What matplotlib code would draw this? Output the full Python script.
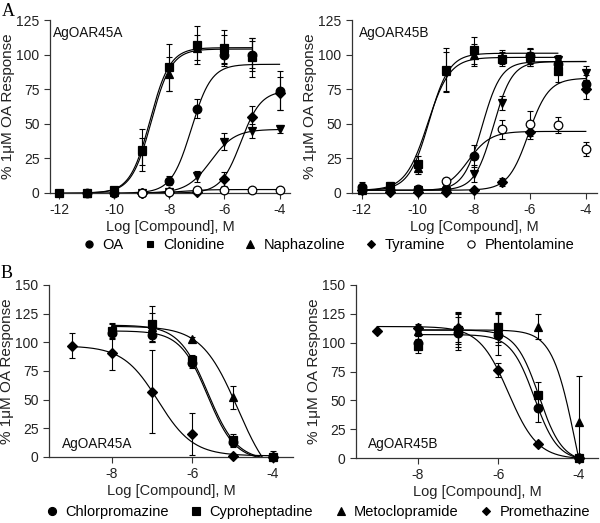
import numpy as np
import matplotlib
matplotlib.use("Agg")
import matplotlib.pyplot as plt
from matplotlib.lines import Line2D

nan = np.nan
plt.rcParams.update({"font.family": ["Liberation Sans", "DejaVu Sans"], "font.size": 10,
                     "axes.spines.top": False, "axes.spines.right": False})

# ---- panel A: agonists, dose in log M ----
dose_top = [-12, -11, -10, -9, -8, -7, -6, -5, -4]

# AgOAR45A (mean, sem) and fit (bottom, top, logEC50, hill)
a_oa = [nan, 0, 0, 0, 9, 61, 100, 100, 74]
a_oa_sem = [nan, 0, 0, 0, 3, 7, 7, 10, 14]
a_oa_fit = [0, 93, -7.2, 1.2]
a_clon = [0, 0, 2, 31, 91, 107, 105, 98, nan]
a_clon_sem = [0, 0, 1, 15, 17, 14, 13, 14, nan]
a_clon_fit = [0, 105, -8.7, 1.2]
a_naph = [nan, 0, 1, 30, 86, 105, 104, 100, nan]
a_naph_sem = [nan, 0, 1, 10, 12, 9, 10, 12, nan]
a_naph_fit = [0, 104, -8.65, 1.2]
a_tyr = [nan, nan, nan, 0, 1, 1, 10, 55, 72]
a_tyr_sem = [nan, nan, nan, 0, 0, 1, 5, 8, 12]
a_tyr_fit = [0, 74, -5.4, 1.2]
a_phen = [nan, nan, nan, 0, 1, 2, 2, 2, 2]
a_phen_sem = [nan, nan, nan, 0, 0, 0, 0, 0, 0]
a_phen_fit = [0, 2.5, -7.5, 1.0]
a_inv = [nan, nan, nan, 0, 1, 12, 37, 45, 46]
a_inv_sem = [nan, nan, nan, 0, 1, 4, 6, 5, 3]
a_inv_fit = [0, 46, -6.5, 1.0]

# AgOAR45B
b_oa = [4, 2, 3, 3, 27, nan, 99, 93, 79]
b_oa_sem = [4, 1, 1, 1, 8, nan, 6, 5, 6]
b_oa_fit = [2, 95, -7.7, 1.3]
b_clon = [3, 5, 21, 89, 103, 97, 98, 88, nan]
b_clon_sem = [3, 3, 6, 16, 10, 5, 6, 8, nan]
b_clon_fit = [2, 101, -9.6, 1.2]
b_naph = [2, 4, 18, 88, 100, 98, 99, 93, nan]
b_naph_sem = [2, 2, 4, 14, 8, 5, 5, 5, nan]
b_naph_fit = [2, 98, -9.65, 1.1]
b_tyr = [2, 1, 1, 1, 2, 8, 44, nan, 75]
b_tyr_sem = [1, 1, 1, 1, 1, 3, 5, nan, 7]
b_tyr_fit = [2, 83, -6.05, 1.2]
b_phen = [nan, nan, nan, 9, nan, 46, 50, 49, 32]
b_phen_sem = [nan, nan, nan, 2, nan, 7, 9, 6, 5]
b_phen_fit = [2, 44.5, -8.2, 1.1]
b_inv = [nan, nan, 2, 5, 14, 65, 97, 96, 87]
b_inv_sem = [nan, nan, 1, 2, 6, 5, 5, 4, 5]
b_inv_fit = [2, 95, -7.3, 1.3]

# ---- panel B: antagonists ----
dose_bot = [-9, -8, -7, -6, -5, -4]

c_chlor = [nan, 108, 106, 82, 13, 0]
c_chlor_sem = [nan, 5, 5, 4, 4, 1]
c_chlor_fit = [-3, 110, -5.62, -1.27]
c_cypro = [nan, 110, 116, 85, 15, 0]
c_cypro_sem = [nan, 6, 16, 4, 5, 1]
c_cypro_fit = [-3, 115, -5.615, -1.21]
c_meto = [nan, 112, 113, 103, 52, 1]
c_meto_sem = [nan, 5, 13, 2, 10, 4]
c_meto_fit = [-30, 114, -4.87, -0.96]
c_prom = [97, 91, 57, 20, 1, 0]
c_prom_sem = [11, 15, 36, 18, 1, 1]
c_prom_fit = [1, 97, -6.85, -1.0]

d_chlor = [nan, 100, 108, 107, 43, 0]
d_chlor_sem = [nan, 6, 14, 18, 12, 1]
d_chlor_fit = [-2.4, 107, -5.1, -1.5]
d_cypro = [nan, 97, 111, 114, 55, 0]
d_cypro_sem = [nan, 6, 15, 13, 11, 1]
d_cypro_fit = [-3.7, 111, -4.987, -1.5]
d_meto = [nan, 110, 113, 112, 114, 31]
d_meto_sem = [nan, 4, 14, 14, 11, 40]
d_meto_fit = [-85, 111, -4.078, -1.5]
d_prom = [110, 113, 113, 76, 12, 0]
d_prom_sem = [0, 3, 12, 6, 2, 0]
d_prom_fit = [-1, 114, -5.744, -1.2]

top_names = ["OA", "Clonidine", "Naphazoline", "Tyramine", "Phentolamine"]
bot_names = ["Chlorpromazine", "Cyproheptadine", "Metoclopramide", "Promethazine"]

MK = {"circle": dict(marker="o", ms=6.2, mfc="k"),
      "square": dict(marker="s", ms=5.8, mfc="k"),
      "tri": dict(marker="^", ms=6.2, mfc="k"),
      "diamond": dict(marker="D", ms=4.6, mfc="k"),
      "open": dict(marker="o", ms=6.2, mfc="white"),
      "inv": dict(marker="v", ms=6.2, mfc="k")}

W, H = 600, 523
fig = plt.figure(figsize=(W / 100, H / 100), dpi=100)


def logistic(x, p):
    bot, top, c, h = p
    return bot + (top - bot) / (1 + 10 ** ((c - x) * h))


def series(ax, dose, y, sem, fit, mk):
    x = np.array(dose, float)
    y = np.array(y, float)
    sem = np.array(sem, float)
    ok = ~np.isnan(y)
    xs = np.linspace(x[ok].min(), x[ok].max(), 300)
    ax.plot(xs, logistic(xs, fit), color="k", lw=0.85, zorder=2)
    lo = np.minimum(sem, y)
    ax.errorbar(x, y, yerr=[lo, sem], fmt="none", ecolor="k", elinewidth=0.8,
                capsize=2.5, capthick=0.8, clip_on=False, zorder=3)
    ax.plot(x, y, ls="none", mec="k", mew=0.9, clip_on=False, zorder=4, **MK[mk])


def style(ax, xlim, ylim, xticks, yticks, name, name_xy):
    ax.set_xlim(*xlim)
    ax.set_ylim(*ylim)
    ax.set_xticks(xticks)
    ax.set_xticklabels([f"{t:d}" for t in xticks])
    ax.set_yticks(yticks)
    for s in ("left", "bottom"):
        ax.spines[s].set_color("#333333")
        ax.spines[s].set_linewidth(0.9)
    ax.tick_params(direction="out", length=4, width=0.8, colors="#333333",
                   labelcolor="#222222", labelsize=10)
    ax.set_xlabel("Log [Compound], M", fontsize=10.5, labelpad=2, color="#222222")
    ax.set_ylabel("% 1\u03bcM OA Response", fontsize=11, labelpad=1, color="#222222")
    ax.text(name_xy[0], name_xy[1], name, transform=ax.transAxes, fontsize=9.8,
            va="center", ha="left", color="#111111")


def axes_px(left, right, top, bottom):
    return fig.add_axes([left / W, 1 - bottom / H, (right - left) / W, (bottom - top) / H])


# panel A
ax1 = axes_px(50, 290, 20, 193)
series(ax1, dose_top, a_clon, a_clon_sem, a_clon_fit, "square")
series(ax1, dose_top, a_naph, a_naph_sem, a_naph_fit, "tri")
series(ax1, dose_top, a_oa, a_oa_sem, a_oa_fit, "circle")
series(ax1, dose_top, a_inv, a_inv_sem, a_inv_fit, "inv")
series(ax1, dose_top, a_tyr, a_tyr_sem, a_tyr_fit, "diamond")
series(ax1, dose_top, a_phen, a_phen_sem, a_phen_fit, "open")
style(ax1, (-12.33, -3.62), (0, 125), [-12, -10, -8, -6, -4], np.arange(0, 126, 25),
      "AgOAR45A", (0.012, 0.925))

ax2 = axes_px(352, 597, 20, 193)
series(ax2, dose_top, b_clon, b_clon_sem, b_clon_fit, "square")
series(ax2, dose_top, b_naph, b_naph_sem, b_naph_fit, "tri")
series(ax2, dose_top, b_oa, b_oa_sem, b_oa_fit, "circle")
series(ax2, dose_top, b_inv, b_inv_sem, b_inv_fit, "inv")
series(ax2, dose_top, b_tyr, b_tyr_sem, b_tyr_fit, "diamond")
series(ax2, dose_top, b_phen, b_phen_sem, b_phen_fit, "open")
style(ax2, (-12.35, -3.6), (0, 125), [-12, -10, -8, -6, -4], np.arange(0, 126, 25),
      "AgOAR45B", (0.029, 0.925))

# panel B
ax3 = axes_px(49, 293, 285, 457)
series(ax3, dose_bot, c_chlor, c_chlor_sem, c_chlor_fit, "circle")
series(ax3, dose_bot, c_cypro, c_cypro_sem, c_cypro_fit, "square")
series(ax3, dose_bot, c_meto, c_meto_sem, c_meto_fit, "tri")
series(ax3, dose_bot, c_prom, c_prom_sem, c_prom_fit, "diamond")
style(ax3, (-9.56, -3.5), (0, 150), [-8, -6, -4], np.arange(0, 151, 25),
      "AgOAR45A", (0.053, 0.076))

ax4 = axes_px(356, 598, 285, 458)
series(ax4, dose_bot, d_chlor, d_chlor_sem, d_chlor_fit, "circle")
series(ax4, dose_bot, d_cypro, d_cypro_sem, d_cypro_fit, "square")
series(ax4, dose_bot, d_meto, d_meto_sem, d_meto_fit, "tri")
series(ax4, dose_bot, d_prom, d_prom_sem, d_prom_fit, "diamond")
style(ax4, (-9.53, -3.52), (0, 150), [-8, -6, -4], np.arange(0, 151, 25),
      "AgOAR45B", (0.049, 0.081))


def handles(kinds, size):
    out = []
    for k in kinds:
        d = dict(MK[k])
        d["ms"] = size * d["ms"] / 6.2
        out.append(Line2D([], [], ls="none", mec="k", mew=0.8, **d))
    return out


fig.legend(handles(["circle", "square", "tri", "diamond", "open"], 5.2), top_names,
           loc="center", bbox_to_anchor=(0.548, 1 - 245 / H), ncol=5, frameon=False,
           handlelength=0.8, handletextpad=0.5, columnspacing=1.4, fontsize=10.5,
           borderpad=0)
fig.legend(handles(["circle", "square", "tri", "diamond"], 5.8), bot_names,
           loc="center", bbox_to_anchor=(0.53, 1 - 512 / H), ncol=4, frameon=False,
           handlelength=0.8, handletextpad=0.5, columnspacing=1.5, fontsize=10.5,
           borderpad=0)

fig.text(8 / W, 1 - 11 / H, "A", family="Liberation Serif", fontsize=13, ha="center", va="center")
fig.text(7 / W, 1 - 273 / H, "B", family="Liberation Serif", fontsize=13, ha="center", va="center")

fig.savefig("out.png", dpi=100)
